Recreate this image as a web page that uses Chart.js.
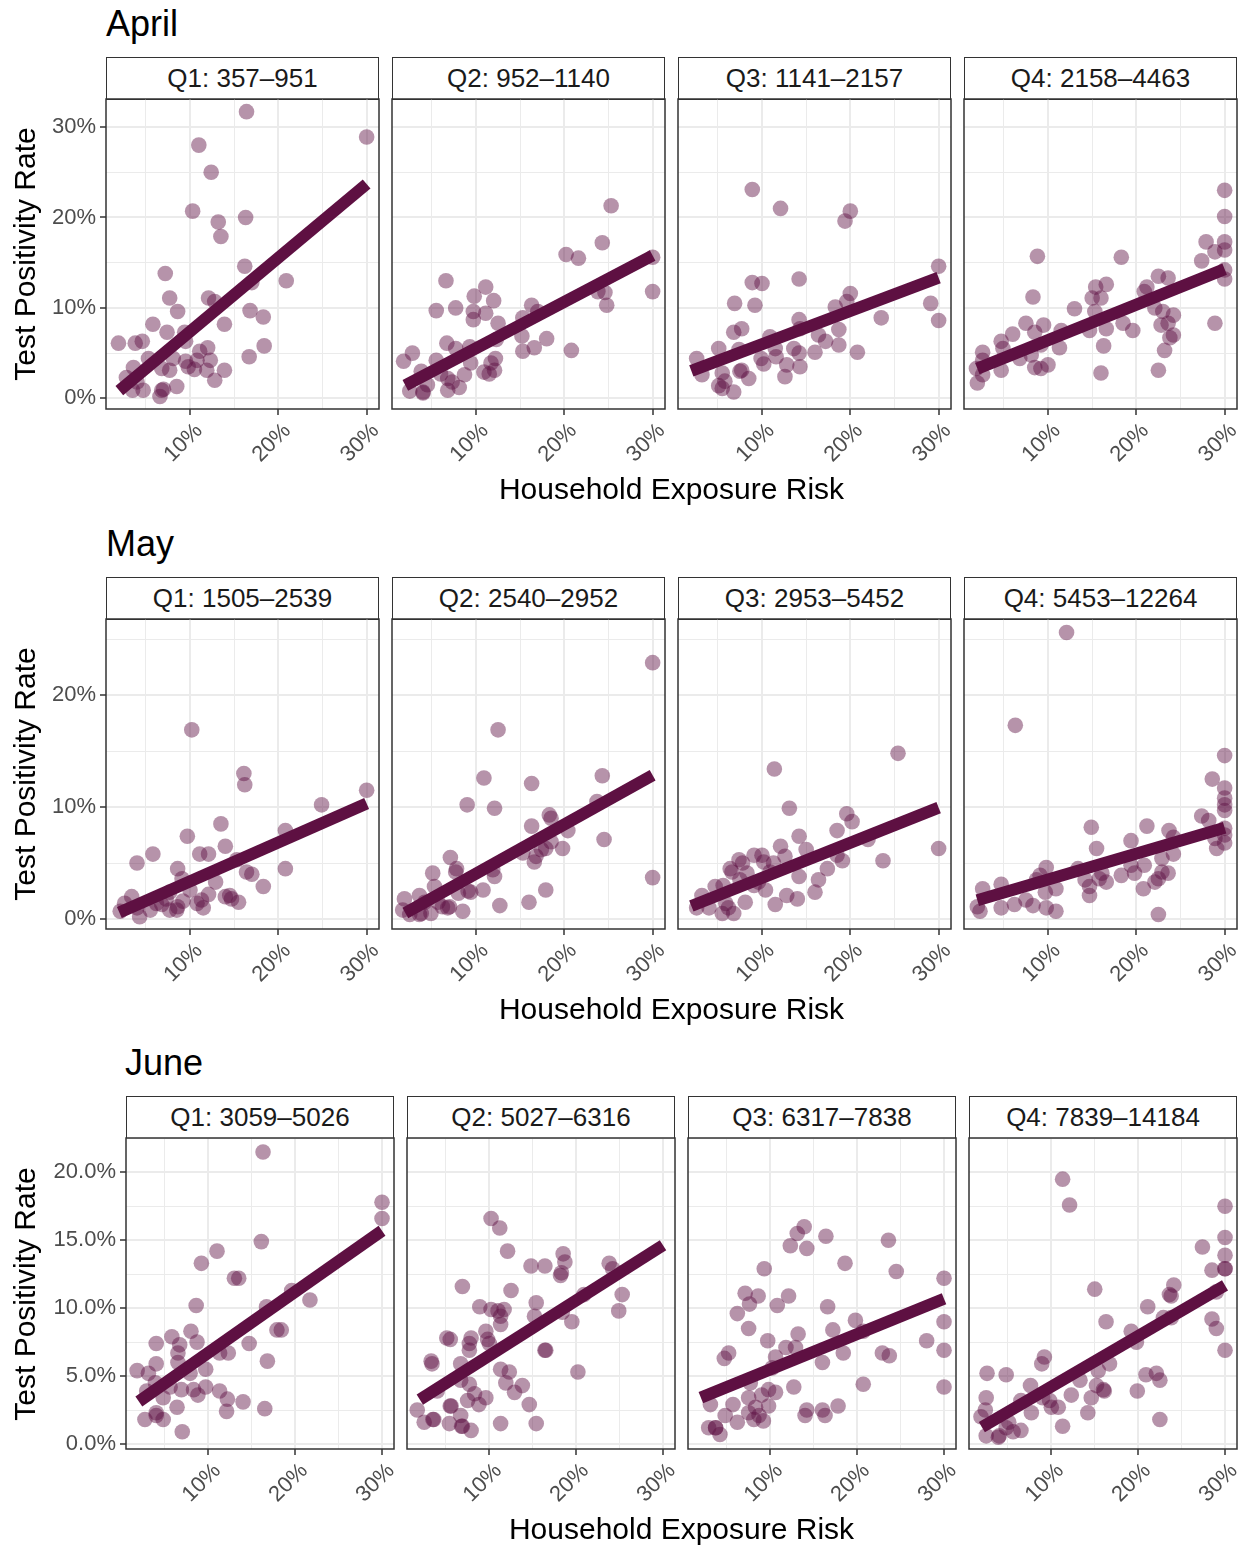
<!DOCTYPE html>
<html>
<head>
<meta charset="utf-8">
<script src="https://cdn.jsdelivr.net/npm/chart.js@4.4.0/dist/chart.umd.min.js"></script>
<style>
  body { margin: 0; background: #fff; width: 1244px; height: 1545px; position: relative; overflow: hidden;
         font-family: "Liberation Sans", Arial, Helvetica, sans-serif; }
  .txt { position: absolute; display: flex; align-items: center; white-space: nowrap; }
  .strip { position: absolute; box-sizing: border-box; border: 1.5px solid #333; background: #fff;
           display: flex; align-items: center; justify-content: center; font-size: 26px; color: #1a1a1a; }
  canvas { position: absolute; }
</style>
</head>
<body>
<script>
// ---- data: [household exposure risk %, test positivity rate %] ----
const aprQ1 = [[16.4,31.7],[30.0,28.9],[11.0,28.0],[12.4,25.0],[10.3,20.7],[13.2,19.5],[16.3,20.0],[13.5,17.9],[16.2,14.6],[17.0,12.8],
  [20.9,13.0],[7.2,13.8],[7.7,11.1],[8.6,9.6],[12.1,11.1],[12.8,10.7],[16.8,9.7],[18.3,9.0],[13.9,8.2],[5.8,8.2],
  [7.4,7.3],[1.9,6.1],[3.8,6.1],[4.6,6.3],[9.4,7.3],[9.5,6.3],[12.0,5.6],[11.1,5.2],[18.4,5.8],[16.7,4.6],
  [5.3,4.4],[8.1,4.4],[9.5,4.1],[10.8,4.2],[12.3,4.2],[3.6,3.4],[6.8,3.3],[7.7,3.1],[9.8,3.5],[10.5,3.2],
  [13.9,3.1],[11.9,3.1],[12.8,2.0],[2.8,2.3],[3.5,0.9],[4.7,0.9],[6.8,0.9],[6.6,0.2],[8.5,1.3],[4.0,1.8],[7.0,1.0]];
const aprQ2 = [[25.3,21.3],[24.3,17.2],[20.2,15.9],[21.6,15.5],[30.0,15.6],[30.0,11.8],[23.8,11.8],[24.6,11.7],[24.8,10.3],[6.6,13.0],
  [11.1,12.3],[9.8,11.3],[12.0,10.8],[5.5,9.7],[7.7,10.0],[9.7,9.6],[11.1,9.4],[9.7,8.7],[12.5,8.3],[16.3,10.3],
  [15.3,8.9],[17.0,9.6],[15.2,6.9],[18.0,6.6],[16.6,5.6],[15.3,5.2],[20.8,5.3],[6.7,6.1],[7.7,5.5],[9.3,5.7],
  [12.3,6.5],[2.8,5.0],[1.8,4.1],[5.5,4.2],[9.4,3.9],[12.2,4.4],[11.7,3.9],[12.1,3.1],[10.9,2.9],[11.5,2.7],
  [3.8,3.0],[6.0,2.7],[6.8,2.2],[8.7,2.6],[2.5,0.8],[4.0,0.6],[4.0,0.7],[6.8,0.9],[8.1,1.2],[4.5,1.5],[7.3,1.8]];
const aprQ3 = [[8.9,23.1],[12.1,21.0],[20.0,20.7],[19.4,19.6],[30.0,14.6],[8.9,12.8],[10.0,12.7],[14.2,13.2],[6.9,10.5],[9.2,10.3],
  [20.0,11.6],[19.6,10.7],[18.3,10.1],[29.1,10.5],[30.0,8.6],[23.5,8.9],[14.2,8.7],[14.3,7.7],[6.8,7.3],[7.7,7.7],
  [18.7,7.6],[16.4,7.0],[17.2,6.3],[18.7,5.9],[10.9,6.8],[5.1,5.5],[7.4,5.4],[11.5,5.5],[13.6,5.5],[14.2,5.0],
  [16.0,5.1],[20.8,5.1],[2.6,4.4],[9.9,4.4],[10.2,3.8],[11.6,4.6],[12.8,3.7],[14.3,3.5],[12.6,2.4],[3.2,2.6],
  [5.5,2.8],[7.5,3.0],[8.5,2.2],[5.1,1.4],[5.8,1.9],[6.8,0.7],[7.7,3.1],[5.5,1.1]];
const aprQ4 = [[30.0,23.0],[30.0,20.1],[27.9,17.3],[30.0,17.3],[30.0,16.4],[28.9,16.2],[27.4,15.2],[30.0,14.2],[30.0,13.2],[28.9,8.3],
  [8.8,15.7],[18.3,15.6],[8.3,11.2],[22.5,13.5],[23.6,13.3],[21.2,12.3],[20.9,11.8],[15.4,12.3],[16.6,12.6],[15.0,11.1],
  [16.0,11.1],[13.0,9.9],[15.3,9.6],[22.1,10.0],[23.0,9.6],[24.2,9.2],[23.6,8.3],[22.8,8.1],[24.2,7.0],[23.8,6.7],
  [7.5,8.3],[9.5,8.1],[8.5,7.3],[6.0,7.1],[11.5,7.5],[14.7,7.5],[16.6,7.7],[18.5,8.3],[19.6,7.5],[4.7,6.3],
  [4.9,5.5],[9.2,5.9],[11.3,5.6],[16.3,5.8],[23.2,5.3],[2.6,5.1],[6.8,4.4],[8.1,4.8],[2.6,4.2],[4.7,3.1],
  [8.5,3.4],[9.2,3.3],[10.0,3.7],[1.9,3.3],[2.6,2.6],[2.0,1.7],[16.0,2.8],[22.5,3.1]];

const mayQ1 = [[10.2,16.9],[16.1,13.0],[16.2,12.0],[30.0,11.5],[24.9,10.2],[20.8,7.9],[20.8,4.5],[13.5,8.5],[9.7,7.4],[14.0,6.5],
  [5.8,5.8],[11.1,5.8],[12.1,5.8],[4.0,5.0],[8.6,4.5],[15.3,5.3],[16.4,4.2],[17.0,4.0],[9.1,3.6],[12.9,3.3],
  [18.3,2.9],[10.0,2.6],[12.1,2.2],[14.0,2.0],[14.5,2.1],[14.7,1.8],[15.5,1.5],[11.3,1.7],[11.5,1.0],[10.8,1.4],
  [3.4,2.0],[2.6,1.4],[4.0,1.0],[4.3,0.2],[5.5,0.8],[6.8,1.3],[7.7,0.8],[8.5,0.8],[8.6,1.1],[7.3,1.8],
  [9.2,1.6],[2.1,0.7],[6.2,1.4],[7.7,2.4]];
const mayQ2 = [[30.0,22.9],[12.5,16.9],[10.9,12.6],[16.3,12.1],[24.3,12.8],[9.0,10.2],[12.1,9.9],[23.7,10.5],[18.3,9.3],[18.5,9.0],
  [16.3,8.3],[20.4,7.9],[24.5,7.1],[18.5,6.9],[19.8,6.3],[17.9,6.3],[17.4,6.2],[16.6,5.1],[15.3,5.9],[16.8,5.6],
  [30.0,3.7],[17.9,2.6],[16.0,1.5],[12.7,1.2],[7.1,5.5],[7.8,4.5],[7.7,4.2],[5.1,4.1],[12.1,3.8],[11.9,4.4],
  [5.3,2.9],[10.8,2.6],[9.4,2.4],[9.1,2.5],[8.0,2.3],[3.6,2.1],[1.9,1.8],[4.2,1.5],[5.7,1.5],[6.8,1.0],
  [7.0,1.1],[8.5,0.7],[3.6,0.4],[3.8,0.5],[1.7,0.8],[4.9,0.5],[6.2,1.1],[2.5,0.4]];
const mayQ3 = [[25.4,14.8],[11.4,13.4],[13.1,9.9],[19.6,9.4],[20.2,8.7],[18.5,7.9],[22.0,7.1],[30.0,6.3],[23.7,5.2],[14.2,7.4],
  [12.1,6.5],[15.0,6.2],[12.6,5.6],[18.5,5.7],[19.1,5.2],[17.4,4.5],[9.1,5.7],[10.0,5.7],[10.2,5.1],[7.4,5.3],
  [7.8,5.0],[11.3,5.0],[6.6,4.2],[8.3,4.1],[14.2,3.8],[16.4,3.5],[9.6,3.3],[10.4,2.6],[5.6,3.0],[4.7,2.9],
  [16.0,2.4],[12.8,2.1],[14.0,1.8],[11.5,1.3],[3.2,2.1],[2.6,1.0],[4.0,1.0],[5.9,1.4],[5.5,0.5],[6.8,0.5],
  [6.2,1.0],[8.1,1.5],[7.5,3.5],[9.1,3.0],[6.4,4.5],[10.9,4.2]];
const mayQ4 = [[12.1,25.6],[6.3,17.3],[30.0,14.6],[28.6,12.5],[30.0,11.7],[30.0,10.8],[30.0,10.2],[30.0,9.7],[27.4,9.2],[28.2,8.8],
  [30.0,8.1],[30.0,7.5],[28.9,7.2],[29.1,6.3],[30.0,6.8],[14.9,8.2],[21.2,8.3],[23.7,7.9],[24.2,7.3],[15.5,6.3],
  [19.4,7.0],[24.2,5.8],[22.9,5.4],[13.4,4.5],[9.8,4.6],[9.1,3.9],[8.7,3.5],[20.9,4.8],[19.4,4.8],[19.8,4.1],
  [18.3,3.9],[16.1,4.1],[16.6,3.3],[15.8,3.6],[14.2,3.5],[14.7,2.9],[14.7,2.1],[22.9,4.2],[23.6,4.1],[22.5,3.6],
  [22.1,3.3],[20.8,2.7],[9.7,2.4],[10.9,2.7],[4.7,3.1],[2.6,2.7],[7.5,1.7],[8.3,1.2],[9.8,1.0],[10.9,0.7],
  [6.2,1.3],[4.7,1.0],[2.0,1.1],[2.3,0.7],[22.5,0.4]];

const junQ1 = [[16.3,21.5],[30.0,17.8],[30.0,16.6],[16.1,14.9],[11.0,14.2],[9.2,13.3],[13.0,12.2],[13.5,12.2],[16.7,10.1],[19.6,11.3],
  [21.7,10.6],[8.6,10.2],[17.9,8.4],[18.4,8.4],[5.8,7.9],[8.0,8.3],[6.7,7.3],[8.7,7.5],[4.0,7.4],[12.3,6.7],
  [14.7,7.4],[11.3,6.7],[6.5,6.7],[16.8,6.1],[4.0,5.9],[1.8,5.4],[3.1,5.2],[6.5,6.0],[9.7,5.5],[7.9,5.2],
  [3.9,4.5],[5.6,4.2],[6.9,4.0],[8.3,4.0],[8.8,3.6],[9.7,4.2],[11.3,3.9],[12.2,3.3],[14.0,3.1],[12.1,2.4],
  [16.5,2.6],[4.8,3.4],[6.4,2.7],[2.7,1.8],[4.0,2.1],[4.8,1.8],[4.0,2.3],[7.0,0.9],[2.9,3.9]];
const junQ2 = [[10.2,16.6],[11.2,15.9],[12.1,14.2],[18.5,14.0],[18.7,13.4],[14.8,13.1],[16.4,13.1],[18.3,12.6],[18.2,12.4],[23.8,13.3],
  [24.2,12.9],[6.9,11.6],[12.5,11.3],[20.9,11.0],[25.3,11.0],[24.9,9.8],[8.9,10.1],[10.2,9.9],[11.0,9.8],[11.7,9.9],
  [11.3,9.4],[11.3,8.8],[15.4,10.4],[15.2,9.4],[18.4,9.7],[19.5,9.0],[9.6,8.3],[9.8,7.7],[10.0,7.4],[5.1,7.8],
  [5.5,7.7],[7.9,7.8],[7.7,7.4],[7.7,6.9],[16.5,6.9],[16.4,6.9],[3.3,6.1],[3.4,5.9],[6.7,5.9],[20.2,5.3],
  [11.3,5.5],[12.3,5.3],[11.9,4.5],[13.8,4.3],[12.9,3.8],[14.6,2.9],[6.7,4.7],[7.7,4.4],[8.3,3.7],[7.5,3.2],
  [9.6,3.4],[8.8,2.9],[4.0,3.9],[5.6,2.8],[5.5,2.8],[1.7,2.5],[2.5,1.6],[3.6,1.8],[3.5,1.8],[5.4,1.5],
  [6.7,2.1],[6.9,1.3],[6.8,1.3],[7.9,1.0],[11.3,1.5],[15.4,1.5]];
const junQ3 = [[13.9,16.0],[13.1,15.5],[16.4,15.3],[12.3,14.6],[14.2,14.4],[23.6,15.0],[18.6,13.3],[24.5,12.7],[9.3,12.9],[30.0,12.2],
  [7.1,11.1],[8.6,10.9],[7.6,10.3],[12.1,10.9],[10.8,10.2],[16.6,10.1],[6.2,9.6],[19.8,9.1],[20.7,8.3],[30.0,9.0],
  [7.5,8.5],[17.2,8.4],[13.2,8.1],[9.7,7.6],[11.8,7.1],[12.9,7.1],[28.0,7.6],[30.0,6.9],[22.9,6.7],[23.7,6.5],
  [18.4,6.7],[16.0,6.0],[10.6,6.4],[10.2,5.6],[5.2,6.7],[4.7,6.3],[7.7,4.5],[20.7,4.4],[30.0,4.2],[12.7,4.2],
  [9.8,4.0],[10.6,3.8],[9.0,3.6],[7.5,3.4],[9.8,2.8],[8.3,2.7],[5.7,2.9],[3.1,2.9],[4.8,2.1],[7.5,2.3],
  [8.1,1.8],[8.7,2.1],[9.2,1.7],[6.2,1.6],[14.2,2.5],[14.0,2.1],[16.0,2.5],[16.3,2.1],[17.8,2.8],[2.9,1.2],
  [3.7,1.2],[3.7,1.2],[4.2,0.7]];
const junQ4 = [[11.3,19.5],[12.1,17.6],[30.0,17.5],[30.0,15.2],[27.4,14.5],[30.0,13.9],[30.0,12.9],[28.5,12.8],[30.0,12.9],[24.1,11.7],
  [23.6,11.0],[23.8,10.9],[29.0,11.2],[15.0,11.4],[21.1,10.1],[22.9,9.3],[23.8,9.3],[28.5,9.2],[29.0,8.5],[16.3,9.0],
  [19.2,8.3],[19.8,7.5],[30.0,6.9],[9.2,6.4],[8.9,5.9],[16.7,5.9],[15.4,5.4],[2.6,5.2],[4.8,5.1],[20.9,5.1],
  [22.1,5.2],[22.5,4.7],[13.3,4.7],[7.6,4.3],[15.2,4.3],[16.0,4.0],[16.1,3.9],[12.3,3.6],[14.6,3.4],[19.9,3.9],
  [2.5,3.4],[6.5,3.2],[9.0,3.4],[9.8,3.2],[10.0,2.7],[10.8,2.7],[7.7,2.3],[14.2,2.3],[2.4,2.5],[1.9,2.0],
  [22.5,1.8],[11.3,1.3],[4.8,1.2],[5.6,0.9],[6.5,1.0],[2.5,0.6],[3.9,0.5],[4.0,0.6],[5.1,1.6]];

// ---- strip labels (population quartiles) ----
const aprStrips = ['Q1: 357\u2013951', 'Q2: 952\u20131140', 'Q3: 1141\u20132157', 'Q4: 2158\u20134463'];
const mayStrips = ['Q1: 1505\u20132539', 'Q2: 2540\u20132952', 'Q3: 2953\u20135452', 'Q4: 5453\u201312264'];
const junStrips = ['Q1: 3059\u20135026', 'Q2: 5027\u20136316', 'Q3: 6317\u20137838', 'Q4: 7839\u201314184'];

// ---- linear fits (y = intercept + slope * x) ----
const aprSlope = [0.816, 0.513, 0.369, 0.393];
const aprIntercept = [-0.78, 0.41, 2.29, 2.50];
const maySlope = [0.348, 0.44, 0.3135, 0.231];
const mayIntercept = [-0.12, -0.35, 0.54, 1.22];
const junSlope = [0.449, 0.406, 0.26, 0.373];
const junIntercept = [2.23, 2.45, 2.89, 0.49];
// the fitted lines all run over the same exposure range
const fitRange = [2.0, 30.0];

const FONT = '"Liberation Sans", Arial, Helvetica, sans-serif';
Chart.defaults.font.family = FONT;

const POINT = 'rgba(94,16,66,0.45)';
const LINE = '#5e1042';

// borde del panel
const panelBorder = {
  id: 'panelBorder',
  afterDraw(chart) {
    const a = chart.chartArea, c = chart.ctx;
    c.save();
    c.strokeStyle = '#333';
    c.lineWidth = 1.5;
    c.strokeRect(a.left, a.top, a.right - a.left, a.bottom - a.top);
    c.restore();
  }
};

function addText(str, left, cy, size, opts = {}) {
  const d = document.createElement('div');
  d.className = 'txt';
  d.textContent = str;
  d.style.fontSize = size + 'px';
  d.style.color = opts.color || '#000';
  d.style.height = '60px';
  d.style.top = (cy - 30) + 'px';
  if (opts.center) {
    d.style.width = '600px';
    d.style.left = (left - 300) + 'px';
    d.style.justifyContent = 'center';
  } else {
    d.style.left = left + 'px';
  }
  if (opts.rotate) d.style.transform = 'rotate(-90deg)';
  document.body.appendChild(d);
}

function addStrip(str, left, top, w) {
  const d = document.createElement('div');
  d.className = 'strip';
  d.textContent = str;
  d.style.left = left + 'px';
  d.style.top = top + 'px';
  d.style.width = w + 'px';
  d.style.height = '43px';
  document.body.appendChild(d);
}

function isMajor(v, major) {
  return Math.abs(v / major - Math.round(v / major)) < 1e-6;
}

function makePanel(o) {
  const m = 3, right = 16, bottom = 80;
  const padL = o.showY ? o.axisW : m;
  const W = padL + o.w + right, H = m + o.h + bottom;
  const cv = document.createElement('canvas');
  cv.width = W; cv.height = H;
  cv.style.left = (o.left - padL) + 'px';
  cv.style.top = (o.top - m) + 'px';
  cv.style.width = W + 'px';
  cv.style.height = H + 'px';
  document.body.appendChild(cv);

  const x0 = fitRange[0], x1 = fitRange[1];

  new Chart(cv, {
    type: 'scatter',
    data: {
      datasets: [{
        data: [{x: x0, y: o.icpt + o.slope * x0}, {x: x1, y: o.icpt + o.slope * x1}],
        showLine: true,
        borderColor: LINE,
        borderWidth: 12,
        borderCapStyle: 'butt',
        pointRadius: 0
      }, {
        data: o.pts.map(p => ({x: p[0], y: p[1]})),
        backgroundColor: POINT,
        borderWidth: 0,
        pointRadius: 7.8
      }]
    },
    options: {
      responsive: false,
      animation: false,
      events: [],
      devicePixelRatio: 1,
      layout: {autoPadding: false, padding: {left: o.showY ? 0 : m, right: right, top: m, bottom: 0}},
      plugins: {legend: {display: false}, tooltip: {enabled: false}},
      scales: {
        x: {
          type: 'linear', min: o.xMin, max: o.xMax,
          border: {display: false},
          grid: {
            color: '#ebebeb',
            lineWidth: c => (c.tick && isMajor(c.tick.value, 10)) ? 2 : 1,
            tickLength: 6,
            tickWidth: 1.5,
            tickColor: c => (c.tick && isMajor(c.tick.value, 10)) ? '#333' : 'rgba(0,0,0,0)'
          },
          ticks: {
            stepSize: 5, includeBounds: false, autoSkip: false,
            minRotation: 45, maxRotation: 45, labelOffset: 9, padding: 3,
            color: '#4d4d4d', font: {size: 22},
            callback: v => isMajor(v, 10) ? v + '%' : ''
          },
          afterFit: s => { s.height = bottom; s.paddingLeft = 0; s.paddingRight = 0; }
        },
        y: {
          type: 'linear', min: o.yMin, max: o.yMax,
          border: {display: false},
          grid: {
            color: '#ebebeb',
            lineWidth: c => (c.tick && isMajor(c.tick.value, o.yMajor)) ? 2 : 1,
            drawTicks: o.showY,
            tickLength: 6,
            tickWidth: 1.5,
            tickColor: c => (c.tick && isMajor(c.tick.value, o.yMajor)) ? '#333' : 'rgba(0,0,0,0)'
          },
          ticks: {
            display: o.showY,
            stepSize: o.yStep, includeBounds: false, autoSkip: false, padding: 4,
            color: '#4d4d4d', font: {size: 22},
            callback: v => isMajor(v, o.yMajor) ? o.fmt(v) : ''
          },
          afterFit: s => { s.width = o.showY ? o.axisW : 0; s.paddingTop = 0; s.paddingBottom = 0; }
        }
      }
    },
    plugins: [panelBorder]
  });
}

const rows = [
  {title: 'April', titleLeft: 106, titleY: 24, stripTop: 57, top: 99, h: 310,
   lefts: [106, 392, 678, 964], w: 273, xMin: 0.49, xMax: 31.4,
   yMin: -1.18, yMax: 33.1, yStep: 5, yMajor: 10, fmt: v => v + '%', axisW: 66,
   strips: aprStrips, panels: [aprQ1, aprQ2, aprQ3, aprQ4], slope: aprSlope, icpt: aprIntercept,
   xTitleY: 489, yTitleY: 254},
  {title: 'May', titleLeft: 106, titleY: 544, stripTop: 577, top: 619, h: 310,
   lefts: [106, 392, 678, 964], w: 273, xMin: 0.49, xMax: 31.4,
   yMin: -0.89, yMax: 26.8, yStep: 5, yMajor: 10, fmt: v => v + '%', axisW: 66,
   strips: mayStrips, panels: [mayQ1, mayQ2, mayQ3, mayQ4], slope: maySlope, icpt: mayIntercept,
   xTitleY: 1009, yTitleY: 774},
  {title: 'June', titleLeft: 125, titleY: 1063, stripTop: 1096, top: 1138, h: 311,
   lefts: [126, 407, 688, 969], w: 268, xMin: 0.52, xMax: 31.38,
   yMin: -0.37, yMax: 22.53, yStep: 2.5, yMajor: 5, fmt: v => v.toFixed(1) + '%', axisW: 80,
   strips: junStrips, panels: [junQ1, junQ2, junQ3, junQ4], slope: junSlope, icpt: junIntercept,
   xTitleY: 1529, yTitleY: 1294}
];

rows.forEach(r => {
  addText(r.title, r.titleLeft, r.titleY, 36);
  r.lefts.forEach((left, i) => {
    addStrip(r.strips[i], left, r.stripTop, r.w);
    makePanel({
      left: left, top: r.top, w: r.w, h: r.h, showY: i === 0, axisW: r.axisW,
      xMin: r.xMin, xMax: r.xMax, yMin: r.yMin, yMax: r.yMax, yStep: r.yStep, yMajor: r.yMajor, fmt: r.fmt,
      pts: r.panels[i], slope: r.slope[i], icpt: r.icpt[i]
    });
  });
  const cx = (r.lefts[0] + r.lefts[3] + r.w) / 2;
  addText('Household Exposure Risk', cx, r.xTitleY, 30, {center: true});
  addText('Test Positivity Rate', 25, r.yTitleY, 30, {center: true, rotate: true});
});
</script>
</body>
</html>
